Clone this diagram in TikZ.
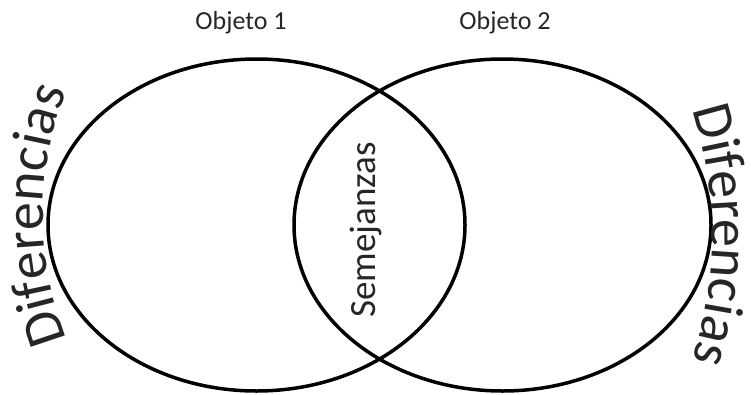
\documentclass[tikz,border=0pt]{standalone}
\usepackage{fontspec}
\setmainfont{Carlito}
\usetikzlibrary{shapes.geometric,decorations.text}
\begin{document}
\begin{tikzpicture}[x=1pt,y=1pt,
  venn/.style={draw=black, line width=3.5pt, ellipse, inner sep=0pt,
    minimum width=417pt, minimum height=332pt},
  title/.style={font=\fontsize{26}{30}\selectfont, text=black!85, inner sep=0pt},
  sim/.style={font=\fontsize{37}{40}\selectfont, text=black!85, inner sep=0pt},
  arctext/.style={decorate, decoration={text along path, text align=center,
    text color=black!85, text={|\fontsize{56}{62}\selectfont|#1}}}]
\useasboundingbox (0,0) rectangle (751,-394);
\node[venn] (left) at (256.5,-225) {};
\node[venn] (right) at (502.5,-225) {};
\node[title] (t1) at (241,-23) {Objeto 1};
\node[title] (t2) at (505,-23) {Objeto 2};
\node[sim, rotate=90] (s) at (366,-230) {Semejanzas};
% curved labels
\coordinate (c1) at (382,-215);
\coordinate (c2) at (299,-235);
\path[arctext=Diferencias] ([shift={(210:339)}]c1) arc[start angle=210, end angle=150, radius=339];
\path[arctext=Diferencias] ([shift={(27:413)}]c2) arc[start angle=27, end angle=-27, radius=413];
\end{tikzpicture}
\end{document}
